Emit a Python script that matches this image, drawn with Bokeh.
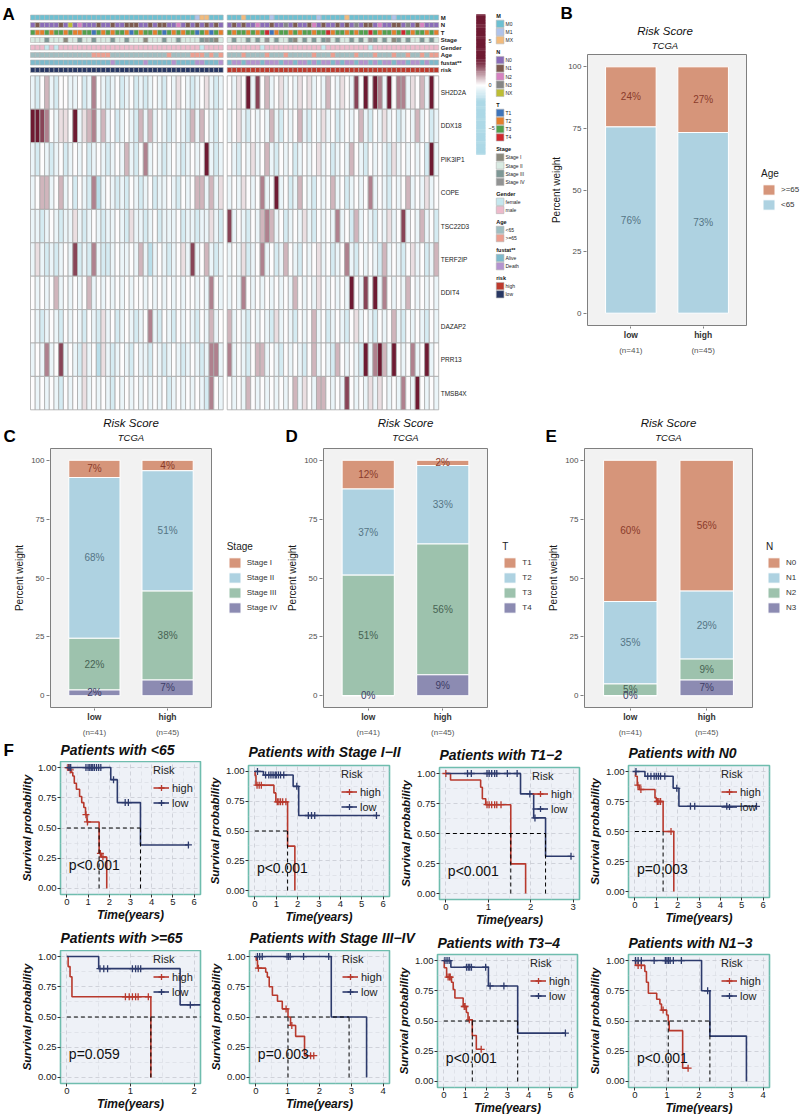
from bokeh.plotting import figure
from bokeh.models import (Range1d, ColumnDataSource, LinearColorMapper, FixedTicker,
                          Legend, LegendItem, Label, LinearAxis, NumeralTickFormatter)
from bokeh.layouts import row, column
from bokeh.embed import file_html
from bokeh.resources import INLINE
from bokeh.core.properties import value

FONT = "Liberation Sans"

# ============================ DATA ============================
GROUPS = ["low", "high"]
GROUP_N = [41, 45]

# ---- Panel A: heatmap (digit = shade level read from each cell) ----
GENES = ["SH2D2A", "DDX18", "PIK3IP1", "COPE", "TSC22D3", "TERF2IP", "DDIT4", "DAZAP2", "PRR13", "TMSB4X"]
LEVEL_VALUES = [-1.6, -1.0, -0.5, 0.0, 0.4, 0.9, 1.5, 2.3, 4.0]
EXPR_LOW = [
    "2135213322" "3126321231" "2312123213" "2432123421" "2",
    "8876324438" "2456252312" "3215252321" "2321525321" "3",
    "2132123123" "2312321232" "5213623212" "3212323821" "2",
    "2355235231" "3216023212" "1321231223" "2132355252" "4",
    "2212321224" "2123212232" "1422123122" "2312212242" "1",
    "2421212327" "1216211232" "2325202321" "2342723521" "2",
    "3232352323" "2352323232" "3233232323" "2323323263" "2",
    "3212321323" "2132142312" "3212362132" "1323213252" "3",
    "2326237232" "1423042123" "2132213212" "3212321266" "2",
    "3232321323" "2423232132" "3232323231" "2323232163" "2",
]
EXPR_HIGH = [
    "3243827352" "3423243423" "2532432738" "3862836624" "35283",
    "2342132325" "2132352132" "4231232352" "1324231232" "52312",
    "3213242352" "1323123234" "2312325321" "3232142323" "23182",
    "2324323623" "8231253213" "2352312323" "6232132352" "32423",
    "7232132565" "2312324213" "2326231523" "2132423723" "25231",
    "2324123623" "1253213234" "2312362132" "3215232134" "23125",
    "2326323232" "3232532324" "3232328327" "3826323253" "23232",
    "5232132321" "4232132352" "3123213423" "2132352132" "32132",
    "6232135523" "2132321352" "3215323218" "2685283236" "23823",
    "3232532323" "2323524325" "5323273232" "4243232632" "83232",
]

ANNO_ROWS = ["M", "N", "T", "Stage", "Gender", "Age", "fustat**", "risk"]
ANNO_LEVELS = [
    ["M0", "M1", "MX"],
    ["N0", "N1", "N2", "N3", "NX"],
    ["T1", "T2", "T3", "T4"],
    ["Stage I", "Stage II", "Stage III", "Stage IV"],
    ["female", "male"],
    ["<65", ">=65"],
    ["Alive", "Death"],
    ["high", "low"],
]
ANNO_COLORS = [
    ["#6CC0D2", "#AFC3EA", "#F2BB7C"],
    ["#8A6CB8", "#7D5A4F", "#D681C0", "#858585", "#BDBD34"],
    ["#3E74BA", "#E47F2C", "#52A04C", "#D0282E"],
    ["#8B897C", "#D8EAE2", "#7E9896", "#929393"],
    ["#C5E7EE", "#EDBACB"],
    ["#9FBDC0", "#EC9E8F"],
    ["#7DBACC", "#B493CF"],
    ["#BE3A2D", "#283763"],
]
ANNO_LOW = [
    "0000000000" "0000000000" "0000000000" "0000012200" "0",
    "0100001040" "2000100100" "1110010110" "0201010101" "0",
    "2112122121" "1220212122" "1021221202" "1212202102" "1",
    "1112111011" "2112111211" "2111011121" "1211112320" "1",
    "1110101111" "1111111111" "1111111111" "1111110111" "1",
    "0000000000" "0001111000" "0000000001" "0000111010" "1",
    "0000000000" "0000000100" "0000100000" "1000011000" "1",
    "1111111111" "1111111111" "1111111111" "1111111111" "1",
]
ANNO_HIGH = [
    "0002000001" "0000000001" "0000020000" "0000010000" "00000",
    "0101002001" "0030100120" "1001010301" "1020011030" "12000",
    "2122121230" "1221212212" "2312212122" "3212212321" "22121",
    "1211212131" "2112012121" "2312112121" "3212102121" "12121",
    "1111111011" "1111111111" "0111111111" "0111111111" "11111",
    "0001000010" "0010000010" "0010000100" "0100010010" "01011",
    "0110111011" "1011011010" "1101011011" "0101101101" "10100",
    "0000000000" "0000000000" "0000000000" "0000000000" "00000",
]
COLOR_STOPS = [(-8, "#ADD8E6"), (-1.9, "#ADD8E6"), (0, "#FFFFFF"), (2.8, "#6E1A32"), (8, "#6E1A32")]
CBAR_TICKS = [5, 0, -5]
CBAR_TICK_TEXT = ["5", "0", "\u22125"]

# ---- Panels B-E: counts per group (low, high) ----
AGE_LEVELS = [">=65", "<65"]
AGE_LOW = [10, 31]
AGE_HIGH = [12, 33]
STAGE_LEVELS = ["Stage I", "Stage II", "Stage III", "Stage IV"]
STAGE_LOW = [3, 28, 9, 1]
STAGE_HIGH = [2, 23, 17, 3]
T_LEVELS = ["T1", "T2", "T3", "T4"]
T_LOW = [5, 15, 21, 0]
T_HIGH = [1, 15, 25, 4]
N_LEVELS = ["N0", "N1", "N2", "N3"]
NN_LOW = [24, 14, 2, 0]
NN_HIGH = [25, 13, 4, 3]
PCT_TICKS = [0, 25, 50, 75, 100]

# ---- Panel F: Kaplan-Meier curves ----
KM_TITLES = ["Patients with <65", "Patients with Stage I\u2212II", "Patients with T1\u22122",
             "Patients with N0", "Patients with >=65", "Patients with Stage III\u2212IV",
             "Patients with T3\u22124", "Patients with N1\u22123"]
KM_PVALS = ["p<0.001", "p<0.001", "p<0.001", "p=0.003", "p=0.059", "p=0.003", "p<0.001", "p<0.001"]
KM_XMAX = [6, 6, 3, 6, 2, 4, 6, 4]

KM1_HIGH_T = [0, 0.12, 0.2, 0.28, 0.35, 0.45, 0.6, 0.7, 0.8, 0.88, 0.95, 1.52, 1.62, 1.88]
KM1_HIGH_S = [1, 0.98, 0.96, 0.93, 0.87, 0.82, 0.76, 0.71, 0.67, 0.61, 0.55, 0.29, 0.26, 0]
KM1_HIGH_END = 1.88
KM1_HIGH_CENS = [0.05, 0.1, 0.16, 0.9, 0.97, 1.58, 1.7]
KM1_LOW_T = [0, 2.07, 2.38, 3.47]
KM1_LOW_S = [1, 0.9, 0.71, 0.36]
KM1_LOW_END = 5.73
KM1_LOW_CENS = [0.1, 0.18, 0.9, 1.0, 1.08, 1.15, 1.22, 1.3, 1.4, 1.5, 1.6, 2.2, 2.75, 2.9, 5.73]
KM1_MED = [1.52, 3.47]
KM1_HL = 3.47

KM2_HIGH_T = [0, 0.01, 0.05, 0.89, 0.98, 1.53, 1.87]
KM2_HIGH_S = [1, 0.967, 0.885, 0.82, 0.745, 0.373, 0]
KM2_HIGH_END = 1.87
KM2_HIGH_CENS = [0.1, 0.2, 0.3, 1.05, 1.12, 1.2, 1.3, 1.45]
KM2_LOW_T = [0, 0.4, 1.79, 2.05]
KM2_LOW_S = [1, 0.97, 0.875, 0.63]
KM2_LOW_END = 5.69
KM2_LOW_CENS = [0.12, 0.5, 0.65, 0.75, 0.85, 0.95, 1.0, 1.1, 1.2, 1.35, 1.96, 2.5, 2.65, 2.8, 5.69]
KM2_MED = [1.53]
KM2_HL = 1.53

KM3_HIGH_T = [0, 0.11, 0.82, 0.86, 0.94, 1.53, 1.88]
KM3_HIGH_S = [1, 0.946, 0.885, 0.79, 0.74, 0.247, 0]
KM3_HIGH_END = 1.88
KM3_HIGH_CENS = [0.0, 0.97, 1.02, 1.08, 1.15, 1.2, 1.3]
KM3_LOW_T = [0, 1.76, 2.07, 2.35]
KM3_LOW_S = [1, 0.83, 0.63, 0.31]
KM3_LOW_END = 2.95
KM3_LOW_CENS = [0.51, 0.6, 0.97, 1.02, 1.08, 1.15, 1.2, 1.45, 1.68, 1.98, 2.1, 2.95]
KM3_MED = [1.53, 2.35]
KM3_HL = 2.35

KM4_HIGH_T = [0, 0.03, 0.11, 0.2, 0.94, 1.01, 1.32, 1.82]
KM4_HIGH_S = [1, 0.96, 0.886, 0.85, 0.78, 0.75, 0.5, 0]
KM4_HIGH_END = 1.82
KM4_HIGH_CENS = [0.14, 0.28, 1.05, 1.12, 1.2, 1.69]
KM4_LOW_T = [0, 0.47, 1.79, 2.06]
KM4_LOW_S = [1, 0.96, 0.86, 0.71]
KM4_LOW_END = 5.69
KM4_LOW_CENS = [0.05, 0.6, 0.75, 0.9, 1.0, 1.1, 1.2, 1.4, 1.96, 2.6, 2.8, 4.3, 5.69]
KM4_MED = [1.32]
KM4_HL = 1.32

KM5_HIGH_T = [0, 0.02, 0.05, 0.08, 1.32]
KM5_HIGH_S = [1, 0.917, 0.833, 0.667, 0]
KM5_HIGH_END = 1.32
KM5_HIGH_CENS = [0.92, 0.98, 1.03, 1.08, 1.12, 1.28]
KM5_LOW_T = [0, 0.5, 1.78]
KM5_LOW_S = [1, 0.9, 0.6]
KM5_LOW_END = 2.1
KM5_LOW_CENS = [0.52, 0.58, 0.64, 1.03, 1.08, 1.12, 1.16, 1.94]
KM5_MED = [1.32]
KM5_HL = 2.1

KM6_HIGH_T = [0, 0.01, 0.05, 0.31, 0.36, 0.42, 0.52, 0.68, 0.83, 1.01, 1.09, 1.25, 1.53]
KM6_HIGH_S = [1, 0.97, 0.904, 0.87, 0.83, 0.75, 0.68, 0.63, 0.567, 0.5, 0.43, 0.34, 0.18]
KM6_HIGH_END = 1.82
KM6_HIGH_CENS = [0.08, 0.95, 1.13, 1.72, 1.82]
KM6_LOW_T = [0, 2.37, 3.48]
KM6_LOW_S = [1, 0.5, 0]
KM6_LOW_END = 3.48
KM6_LOW_CENS = [0.05, 0.12, 0.2, 0.98, 1.03, 1.08, 1.5, 2.29]
KM6_MED = [1.01, 2.93]
KM6_HL = 2.93

KM7_HIGH_T = [0, 0.02, 0.13, 0.36, 0.44, 0.52, 0.91, 1.06, 1.14, 1.34, 1.53]
KM7_HIGH_S = [1, 0.94, 0.863, 0.82, 0.76, 0.69, 0.62, 0.57, 0.51, 0.38, 0.266]
KM7_HIGH_END = 1.76
KM7_HIGH_CENS = [0.2, 0.27, 0.3, 0.96, 1.0, 1.2, 1.76]
KM7_LOW_T = [0, 0.33, 2.1, 3.48]
KM7_LOW_S = [1, 0.945, 0.79, 0.40]
KM7_LOW_END = 5.73
KM7_LOW_CENS = [0.05, 0.15, 0.25, 1.07, 1.15, 1.22, 1.3, 1.97, 2.18, 2.83, 5.73]
KM7_MED = [1.34, 3.48]
KM7_HL = 3.48

KM8_HIGH_T = [0, 0.02, 0.31, 0.36, 0.42, 0.68, 0.78, 0.83, 0.99, 1.04, 1.07, 1.49]
KM8_HIGH_S = [1, 0.96, 0.91, 0.82, 0.73, 0.68, 0.64, 0.59, 0.55, 0.5, 0.42, 0.11]
KM8_HIGH_END = 1.66
KM8_HIGH_CENS = [0.1, 0.2, 0.88, 1.66]
KM8_LOW_T = [0, 2.08, 2.34, 3.48]
KM8_LOW_S = [1, 0.75, 0.375, 0]
KM8_LOW_END = 3.48
KM8_LOW_CENS = [0.02, 0.1, 0.2, 0.6, 0.95, 1.0, 1.05, 1.1, 1.2, 1.45, 2.27]
KM8_MED = [1.04, 2.34]
KM8_HL = 2.34

# ============================ STYLE / HELPERS ============================
BAR_FILL = ["#D6957A", "#AED2E1", "#9DC2AD", "#8C8BB2"]
BAR_TEXT = ["#8A3B2B", "#557585", "#476353", "#3D3C66"]
KM_RED = "#B8392D"
KM_NAVY = "#2C3A6C"
INK = "#111111"

for s in EXPR_LOW + ANNO_LOW:
    assert len(s) == GROUP_N[0], s
for s in EXPR_HIGH + ANNO_HIGH:
    assert len(s) == GROUP_N[1], s


def make_palette(stops, n=256):
    lo, hi = stops[0][0], stops[-1][0]

    def rgb(h):
        return [int(h[i:i + 2], 16) for i in (1, 3, 5)]
    pal = []
    for i in range(n):
        v = lo + (hi - lo) * i / (n - 1)
        for (v0, c0), (v1, c1) in zip(stops[:-1], stops[1:]):
            if v0 <= v <= v1:
                f = 0.0 if v1 == v0 else (v - v0) / (v1 - v0)
                a, b = rgb(c0), rgb(c1)
                pal.append("#%02x%02x%02x" % tuple(round(a[k] + (b[k] - a[k]) * f) for k in range(3)))
                break
    return pal


def new_fig(geom, x_range, y_range):
    left, fw, right, top, fh, bottom = geom
    return figure(width=left + fw + right, height=top + fh + bottom, frame_width=fw, frame_height=fh,
                  min_border_left=left, min_border_right=right, min_border_top=top,
                  min_border_bottom=bottom, x_range=x_range, y_range=y_range,
                  output_backend="svg", toolbar_location=None, title=None, frame_align=False)


def band(width, height):
    """A text strip (titles and panel letters) measured in pixels from its top-left corner."""
    p = figure(width=width, height=height, frame_width=width, frame_height=height, min_border=0,
               x_range=Range1d(0, width), y_range=Range1d(height, 0), x_axis_location=None,
               y_axis_location=None, output_backend="svg", toolbar_location=None, title=None,
               frame_align=False)
    p.grid.visible = False
    p.outline_line_color = None
    return p


def put_text(p, xs, ys, texts, size, style="normal", align="left", baseline="middle", color=INK):
    p.text(x=xs, y=ys, text=texts, text_font=value(FONT), text_font_size=size, text_font_style=style,
           text_align=align, text_baseline=baseline, text_color=color)


# ============================ PANEL A ============================
HM_W, HM_H = 548, 412
HM_X0, HM_DX = 30.0, 4.7      # left edge of first column, pixels per column
HM_Y0, HM_DY = 75.3, 33.4     # top of the gene rows, pixels per gene row
GROUP_GAP = 0.85
ANNO_Y0, ANNO_PITCH, ANNO_HPX = 17.0, 7.5, 5.0


def hx(px):
    return (px - HM_X0) / HM_DX


def hy(py):
    return (py - HM_Y0) / HM_DY


hm = figure(width=HM_W, height=HM_H, frame_width=HM_W, frame_height=HM_H, min_border=0,
            x_range=Range1d(hx(0), hx(HM_W)), y_range=Range1d(hy(HM_H), hy(0)),
            x_axis_location=None, y_axis_location=None, output_backend="svg",
            toolbar_location=None, title=None, frame_align=False)
hm.grid.visible = False
hm.outline_line_color = None

mapper = LinearColorMapper(palette=make_palette(COLOR_STOPS), low=COLOR_STOPS[0][0], high=COLOR_STOPS[-1][0])


def col_x(g, j):
    return j + 0.5 if g == 0 else GROUP_N[0] + GROUP_GAP + j + 0.5


cx, cy, cv = [], [], []
for gi, gene in enumerate(GENES):
    for g, rows in enumerate((EXPR_LOW, EXPR_HIGH)):
        for j, ch in enumerate(rows[gi]):
            cx.append(col_x(g, j))
            cy.append(gi + 0.5)
            cv.append(LEVEL_VALUES[int(ch)])
hm.rect(x="x", y="y", width=1, height=1, source=ColumnDataSource(dict(x=cx, y=cy, v=cv)),
        fill_color={"field": "v", "transform": mapper}, line_color="#A9A9A9", line_width=0.8)

right_edge = GROUP_N[0] + GROUP_GAP + GROUP_N[1]
anno_y = [hy(ANNO_Y0 + ANNO_PITCH * k) for k in range(len(ANNO_ROWS))]
for k, name in enumerate(ANNO_ROWS):
    xs, cols = [], []
    for g, codes in enumerate((ANNO_LOW[k], ANNO_HIGH[k])):
        for j, ch in enumerate(codes):
            xs.append(col_x(g, j))
            cols.append(ANNO_COLORS[k][int(ch)])
    hm.rect(x=xs, y=[anno_y[k]] * len(xs), width=1, height=ANNO_HPX / HM_DY, fill_color=cols,
            line_color="#B5B5B5", line_width=0.6)

lab_x = right_edge + 2.0 / HM_DX
put_text(hm, [lab_x] * len(GENES), [i + 0.5 for i in range(len(GENES))], GENES, "6.5px", color="#1A1A1A")
put_text(hm, [lab_x] * len(ANNO_ROWS), anno_y, ANNO_ROWS, "6px", style="bold", color="#1A1A1A")

# colour bar drawn from the same colour mapper
CB_TOP, CB_BOT, CB_X0, CB_X1 = 14.0, 154.0, 475.7, 485.0
lo, hi = COLOR_STOPS[0][0], COLOR_STOPS[-1][0]
NSTEP = 128
cb_v = [lo + (i + 0.5) * (hi - lo) / NSTEP for i in range(NSTEP)]


def cb_py(v):
    return CB_TOP + (hi - v) / (hi - lo) * (CB_BOT - CB_TOP)


cb_src = ColumnDataSource(dict(x=[hx((CB_X0 + CB_X1) / 2)] * NSTEP, y=[hy(cb_py(v)) for v in cb_v], v=cb_v))
hm.rect(x="x", y="y", width=(CB_X1 - CB_X0) / HM_DX, height=1.4 * (CB_BOT - CB_TOP) / NSTEP / HM_DY,
        fill_color={"field": "v", "transform": mapper}, line_color=None, source=cb_src)
put_text(hm, [hx(CB_X1 + 3)] * len(CBAR_TICKS), [hy(cb_py(v)) for v in CBAR_TICKS], CBAR_TICK_TEXT,
         "5.5px", color="#333333")

# annotation legends
LEG_X = 495.7
kx, ky, kc, tx, ty_, tt, hx_, hy_, ht = [], [], [], [], [], [], [], [], []
ypos = 15.0
for k, name in enumerate(ANNO_ROWS):
    hx_.append(hx(LEG_X))
    hy_.append(hy(ypos))
    ht.append(name)
    for i, lvl in enumerate(ANNO_LEVELS[k]):
        yc = ypos + 8.3 + 8.2 * i
        kx.append(hx(LEG_X + 3.9))
        ky.append(hy(yc))
        kc.append(ANNO_COLORS[k][i])
        tx.append(hx(LEG_X + 9.3))
        ty_.append(hy(yc))
        tt.append(lvl)
    ypos += 8.3 + 8.2 * (len(ANNO_LEVELS[k]) - 1) + 11.6
hm.rect(x=kx, y=ky, width=7.7 / HM_DX, height=7.3 / HM_DY, fill_color=kc, line_color="#B5B5B5", line_width=0.6)
put_text(hm, tx, ty_, tt, "5px", color="#222222")
put_text(hm, hx_, hy_, ht, "5.5px", style="bold", color="#111111")
put_text(hm, [hx(2)], [hy(4)], ["A"], "17px", style="bold", baseline="top", color="#000000")


# ============================ PANELS B-E ============================
def bar_panel(levels, low_counts, high_counts, legend_title, fig_w, fig_h, panel_left, panel_w,
              panel_top, panel_h, legend_x):
    """Frame = grey plot panel (+1px) plus the legend strip on its right."""
    ppx = panel_w / 2.2
    ppy = panel_h / 110.0
    left, top = panel_left - 1, panel_top - 1
    fw, fh = fig_w - left, panel_h + 2
    geom = (left, fw, 0, top, fh, fig_h - top - fh)
    x0 = 0.4 - 1.0 / ppx
    p = new_fig(geom, Range1d(x0, x0 + fw / ppx), Range1d(-5 - 1.0 / ppy, 105 + 1.0 / ppy))
    p.outline_line_color = None
    p.grid.visible = False
    p.quad(left=[0.4], right=[2.6], bottom=[-5], top=[105], fill_color="#F2F2F2",
           line_color="#7F7F7F", line_width=1)
    counts = [low_counts, high_counts]
    pct = [[100.0 * c / sum(cs) for c in cs] for cs in counts]
    n = len(levels)
    bots = [[0.0] * n for _ in range(2)]
    tops = [[0.0] * n for _ in range(2)]
    for g in range(2):
        acc = 0.0
        for i in reversed(range(n)):
            bots[g][i] = acc
            acc += pct[g][i]
            tops[g][i] = acc
    rends = []
    for i in range(n):
        src = ColumnDataSource(dict(x=[1, 2], bottom=[bots[0][i], bots[1][i]], top=[tops[0][i], tops[1][i]]))
        rends.append(p.vbar(x="x", bottom="bottom", top="top", width=0.7, source=src,
                            fill_color=BAR_FILL[i], line_color="white", line_width=1))
    lx, ly, lt, lc = [], [], [], []
    for g in range(2):
        for i in range(n):
            lx.append(g + 1)
            ly.append((bots[g][i] + tops[g][i]) / 2)
            lt.append("%d%%" % round(pct[g][i]))
            lc.append(BAR_TEXT[i])
    p.text(x=lx, y=ly, text=lt, text_color=lc, text_align="center", text_baseline="middle",
           text_font=value(FONT), text_font_size="10px")

    ya = p.yaxis[0]
    ya.ticker = FixedTicker(ticks=PCT_TICKS)
    ya.axis_label = "Percent weight"
    ya.axis_line_color = None
    ya.major_tick_line_color = "#7F7F7F"
    ya.major_tick_out = 3
    ya.major_tick_in = 0
    ya.minor_tick_line_color = None
    ya.major_label_text_font = FONT
    ya.major_label_text_font_size = "8px"
    ya.major_label_text_color = "#4D4D4D"
    ya.major_label_standoff = 2
    ya.axis_label_text_font = FONT
    ya.axis_label_text_font_size = "10px"
    ya.axis_label_text_font_style = "normal"
    ya.axis_label_text_color = "#1A1A1A"
    ya.axis_label_standoff = 3

    xa = p.xaxis[0]
    xa.ticker = FixedTicker(ticks=[1, 2])
    xa.major_label_overrides = {1: GROUPS[0], 2: GROUPS[1]}
    xa.axis_line_color = None
    xa.major_tick_line_color = "#7F7F7F"
    xa.major_tick_out = 2
    xa.major_tick_in = 0
    xa.minor_tick_line_color = None
    xa.major_label_text_font = FONT
    xa.major_label_text_font_size = "8.5px"
    xa.major_label_text_font_style = "bold"
    xa.major_label_text_color = "#333333"
    xa.major_label_standoff = 1
    xa.axis_label_standoff = 0
    xa2 = LinearAxis(ticker=FixedTicker(ticks=[1, 2]),
                     major_label_overrides={1: "(n=%d)" % GROUP_N[0], 2: "(n=%d)" % GROUP_N[1]},
                     axis_line_color=None, major_tick_line_color=None, minor_tick_line_color=None,
                     major_tick_out=0, major_tick_in=0, minor_tick_out=0, minor_tick_in=0,
                     axis_label_standoff=0, major_label_standoff=3, major_label_text_font=FONT,
                     major_label_text_font_size="8px", major_label_text_color="#555555")
    p.add_layout(xa2, "below")

    leg_h = 11.2 + 4 + n * 13 + (n - 1) * 2
    leg = Legend(items=[LegendItem(label=l, renderers=[r]) for l, r in zip(levels, rends)],
                 title=legend_title, location=(legend_x, 1 + panel_h / 2 - leg_h / 2),
                 glyph_width=15, glyph_height=13, label_height=13, spacing=2, label_standoff=5,
                 padding=0, margin=0, title_standoff=4, background_fill_alpha=0, border_line_color=None,
                 label_text_font=FONT, label_text_font_size="8px", label_text_color="#333333",
                 title_text_font=FONT, title_text_font_size="10px", title_text_font_style="normal",
                 title_text_color="#1A1A1A")
    p.add_layout(leg)
    return p, left + panel_w / 2


figB, cB = bar_panel(AGE_LEVELS, AGE_LOW, AGE_HIGH, "Age", 252, 359, 37, 159, 1, 271, 175)
figC, cC = bar_panel(STAGE_LEVELS, STAGE_LOW, STAGE_HIGH, "Stage", 282, 289, 50, 161, 1, 259, 177.7)
figD, cD = bar_panel(T_LEVELS, T_LOW, T_HIGH, "T", 258, 289, 41, 164, 1, 259, 180.3)
figE, cE = bar_panel(N_LEVELS, NN_LOW, NN_HIGH, "N", 260, 289, 44, 168, 1, 259, 183)

bandB = band(252, 53)
put_text(bandB, [12], [3], ["B"], "17px", style="bold", baseline="top", color="#000000")
put_text(bandB, [cB + 1], [30], ["Risk Score"], "11.5px", style="italic", align="center")
put_text(bandB, [cB + 1], [45], ["TCGA"], "9.5px", style="italic", align="center")

band2 = band(800, 35)
put_text(band2, [3, 285, 545], [14.5, 14.5, 14.5], ["C", "D", "E"], "17px", style="bold", baseline="top",
         color="#000000")
bc = [cC + 1, 282 + cD + 1, 540 + cE + 1]
put_text(band2, bc, [10.7] * 3, ["Risk Score"] * 3, "11.5px", style="italic", align="center")
put_text(band2, bc, [24.7] * 3, ["TCGA"] * 3, "9.5px", style="italic", align="center")

# ============================ PANEL F ============================
KM_HIGH = [(KM1_HIGH_T, KM1_HIGH_S, KM1_HIGH_END, KM1_HIGH_CENS), (KM2_HIGH_T, KM2_HIGH_S, KM2_HIGH_END, KM2_HIGH_CENS),
           (KM3_HIGH_T, KM3_HIGH_S, KM3_HIGH_END, KM3_HIGH_CENS), (KM4_HIGH_T, KM4_HIGH_S, KM4_HIGH_END, KM4_HIGH_CENS),
           (KM5_HIGH_T, KM5_HIGH_S, KM5_HIGH_END, KM5_HIGH_CENS), (KM6_HIGH_T, KM6_HIGH_S, KM6_HIGH_END, KM6_HIGH_CENS),
           (KM7_HIGH_T, KM7_HIGH_S, KM7_HIGH_END, KM7_HIGH_CENS), (KM8_HIGH_T, KM8_HIGH_S, KM8_HIGH_END, KM8_HIGH_CENS)]
KM_LOW = [(KM1_LOW_T, KM1_LOW_S, KM1_LOW_END, KM1_LOW_CENS), (KM2_LOW_T, KM2_LOW_S, KM2_LOW_END, KM2_LOW_CENS),
          (KM3_LOW_T, KM3_LOW_S, KM3_LOW_END, KM3_LOW_CENS), (KM4_LOW_T, KM4_LOW_S, KM4_LOW_END, KM4_LOW_CENS),
          (KM5_LOW_T, KM5_LOW_S, KM5_LOW_END, KM5_LOW_CENS), (KM6_LOW_T, KM6_LOW_S, KM6_LOW_END, KM6_LOW_CENS),
          (KM7_LOW_T, KM7_LOW_S, KM7_LOW_END, KM7_LOW_CENS), (KM8_LOW_T, KM8_LOW_S, KM8_LOW_END, KM8_LOW_CENS)]
KM_MEDS = [KM1_MED, KM2_MED, KM3_MED, KM4_MED, KM5_MED, KM6_MED, KM7_MED, KM8_MED]
KM_HLS = [KM1_HL, KM2_HL, KM3_HL, KM4_HL, KM5_HL, KM6_HL, KM7_HL, KM8_HL]

SURV_GEOM = [(60, 140, 5, 0, 133, 35), (43, 141, 6, 4, 131, 33), (44, 140, 6, 6, 132, 30),
             (43, 141, 31, 4, 132, 32), (60, 140, 5, 0, 133, 34), (44, 140, 6, 0, 133, 34),
             (42, 140, 8, 4, 133, 30), (43, 141, 31, 4, 133, 30)]
SURV_FIG_LEFT = [0, 205, 395, 585, 0, 205, 395, 585]
SURV_TITLE_Y = [10, 12.3, 15, 13.3, 8, 8, 13, 13]


def surv_at(ts, ss, c):
    v = ss[0]
    for t, s in zip(ts, ss):
        if t <= c:
            v = s
    return v


def surv_panel(i):
    geom = SURV_GEOM[i]
    left, fw, right, top, fh, bottom = geom
    xmax = KM_XMAX[i]
    p = new_fig(geom, Range1d(-0.05 * xmax, 1.05 * xmax), Range1d(-0.05, 1.05))
    p.background_fill_color = "#EEF1F7"
    p.outline_line_color = "#6FBDAE"
    p.outline_line_width = 1.6
    xt = FixedTicker(ticks=list(range(0, xmax + 1)), minor_ticks=[k + 0.5 for k in range(xmax)])
    yt = FixedTicker(ticks=[0, 0.25, 0.5, 0.75, 1.0], minor_ticks=[0.125, 0.375, 0.625, 0.875])
    p.xaxis[0].ticker = xt
    p.yaxis[0].ticker = yt
    p.xgrid[0].ticker = xt
    p.ygrid[0].ticker = yt
    p.yaxis[0].formatter = NumeralTickFormatter(format="0.00")
    for gr in (p.xgrid[0], p.ygrid[0]):
        gr.grid_line_color = "#C6CAD2"
        gr.grid_line_dash = "4 3"
        gr.grid_line_width = 0.8
        gr.minor_grid_line_color = "#D6DAE1"
        gr.minor_grid_line_dash = "4 3"
        gr.minor_grid_line_width = 0.6
    for ax in (p.xaxis[0], p.yaxis[0]):
        ax.axis_line_color = None
        ax.major_tick_line_color = "#333333"
        ax.major_tick_out = 3
        ax.major_tick_in = 0
        ax.minor_tick_line_color = None
        ax.minor_tick_out = 0
        ax.minor_tick_in = 0
        ax.major_label_text_font = FONT
        ax.major_label_text_font_size = "9.5px"
        ax.major_label_text_color = "#1A1A1A"
        ax.major_label_standoff = 1
        ax.axis_label_text_font = FONT
        ax.axis_label_text_font_style = "bold italic"
        ax.axis_label_text_color = INK
    p.xaxis[0].axis_label = "Time(years)"
    p.xaxis[0].axis_label_text_font_size = "12px"
    p.xaxis[0].axis_label_standoff = 0
    p.yaxis[0].axis_label = "Survival probability"
    p.yaxis[0].axis_label_text_font_size = "11.5px"
    p.yaxis[0].axis_label_standoff = 2

    rends = {}
    for key, data, color in (("high", KM_HIGH[i], KM_RED), ("low", KM_LOW[i], KM_NAVY)):
        ts, ss, end, cens = data
        r1 = p.step(x=list(ts) + [end], y=list(ss) + [ss[-1]], mode="after", line_color=color, line_width=1.6)
        r2 = p.scatter(x=cens, y=[surv_at(ts, ss, c) for c in cens], marker="cross", size=7,
                       line_color=color, line_width=1.3)
        rends[key] = [r1, r2]
    p.segment(x0=[0], y0=[0.5], x1=[KM_HLS[i]], y1=[0.5], line_color="black", line_dash="4 3", line_width=1)
    meds = KM_MEDS[i]
    p.segment(x0=meds, y0=[0] * len(meds), x1=meds, y1=[0.5] * len(meds), line_color="black",
              line_dash="4 3", line_width=1)

    p.add_layout(Label(x=0, y=0.19, text=KM_PVALS[i], x_offset=2, text_font=FONT, text_font_size="14px",
                       text_baseline="middle", text_color=INK))

    leg = Legend(items=[LegendItem(label="high", renderers=rends["high"]),
                        LegendItem(label="low", renderers=rends["low"])],
                 title="Risk", location=(93, fh - 49), glyph_width=16, glyph_height=15, label_height=15,
                 label_standoff=3, spacing=0, padding=0, margin=0, title_standoff=4,
                 background_fill_alpha=0, border_line_color=None, label_text_font=FONT,
                 label_text_font_size="11px", label_text_color="#222222", title_text_font=FONT,
                 title_text_font_size="11px", title_text_font_style="normal", title_text_color="#222222")
    p.add_layout(leg)
    return p


surv = [surv_panel(i) for i in range(8)]

band3 = band(800, 22)
put_text(band3, [3], [1.5], ["F"], "17px", style="bold", baseline="top", color="#000000")
put_text(band3, [SURV_FIG_LEFT[i] + SURV_GEOM[i][0] for i in range(4)], SURV_TITLE_Y[:4], KM_TITLES[:4],
         "14px", style="bold italic")
band4 = band(800, 21)
put_text(band4, [SURV_FIG_LEFT[i] + SURV_GEOM[i][0] for i in range(4, 8)], SURV_TITLE_Y[4:], KM_TITLES[4:],
         "14px", style="bold italic")

layout = column(row(hm, column(bandB, figB)), band2, row(figC, figD, figE),
                band3, row(*surv[:4]), band4, row(*surv[4:]))

open("out.html", "w").write(file_html(layout, INLINE))
